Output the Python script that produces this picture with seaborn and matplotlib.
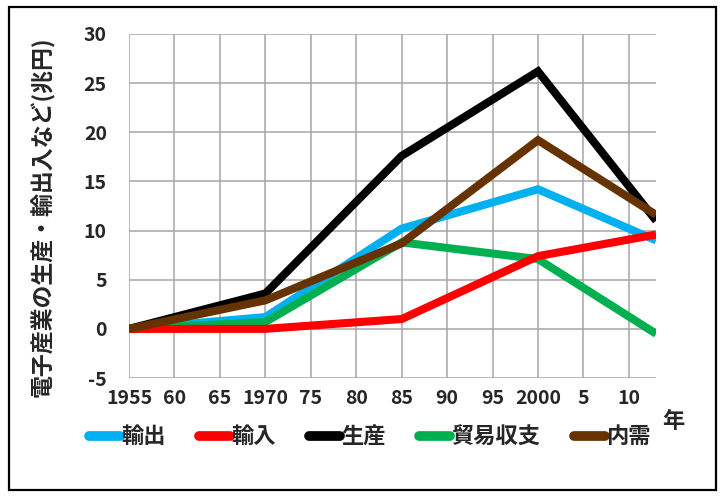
import matplotlib.pyplot as plt
import pandas as pd
import seaborn as sns
from matplotlib.lines import Line2D
from matplotlib.patches import Rectangle

# データ (兆円)
years = [1955, 1970, 1985, 2000, 2013]
exports = [0, 1.2, 10.2, 14.2, 9.0]      # 輸出
imports = [0, 0.0, 1.0, 7.4, 9.6]        # 輸入
production = [0, 3.6, 17.6, 26.2, 11.0]  # 生産
balance = [0, 0.7, 8.8, 7.1, -0.5]       # 貿易収支
domestic = [0, 2.9, 8.7, 19.2, 11.6]     # 内需

series_names = ["輸出", "輸入", "生産", "貿易収支", "内需"]
colors = ["#00B0F0", "#FF0000", "#000000", "#00B050", "#663300"]
tick_years = list(range(1955, 2011, 5))
tick_labels = ["1955", "60", "65", "1970", "75", "80", "85", "90", "95", "2000", "5", "10"]

rows = []
for name, vals in zip(series_names, [exports, imports, production, balance, domestic]):
    for y, v in zip(years, vals):
        rows.append({"年": y, "値": v, "系列": name})
df = pd.DataFrame(rows)

sns.set_style("white")
plt.rcParams["font.family"] = ["Noto Sans CJK JP", "DejaVu Sans"]
plt.rcParams["font.weight"] = "bold"
plt.rcParams["axes.unicode_minus"] = False

fig = plt.figure(figsize=(7.25, 4.97), dpi=100)
ax = fig.add_axes([0.178, 0.2394, 0.727, 0.6922])

sns.lineplot(data=df, x="年", y="値", hue="系列", hue_order=series_names,
             palette=colors, linewidth=5.8, legend=False, ax=ax)

# 重なり順 (輸出 < 生産 < 貿易収支 < 輸入 < 内需)
z = {"輸出": 2.0, "輸入": 2.3, "生産": 2.1, "貿易収支": 2.2, "内需": 2.4}
for line, name in zip(ax.lines, series_names):
    line.set_zorder(z[name])
    line.set_solid_capstyle("butt")
    line.set_solid_joinstyle("miter")

ax.set_xlim(1955, 2013)
ax.set_ylim(-5, 30)
ax.set_xticks(tick_years)
ax.set_xticklabels(tick_labels)
ax.set_yticks(range(-5, 31, 5))
ax.tick_params(length=0, labelsize=14)
ax.tick_params(axis="y", pad=16)
ax.tick_params(axis="x", pad=8)
for lab in ax.get_xticklabels() + ax.get_yticklabels():
    lab.set_fontweight("bold")

ax.grid(True, color="#A6A6A6", linewidth=1.1)
ax.set_axisbelow(True)
for s in ax.spines.values():
    s.set_visible(False)

ax.set_xlabel("")
ax.set_ylabel("電子産業の生産・輸出入など(兆円)", fontsize=16.5, fontweight="bold")
ax.yaxis.set_label_coords(-0.14, 0.47)
fig.text(673 / 725, 1 - 422 / 497, "年", fontsize=16, fontweight="bold", ha="center", va="center")

handles = [Line2D([0], [0], color=c, linewidth=7, solid_capstyle="round") for c in colors]
fig.legend(handles, series_names, loc="center", bbox_to_anchor=(0.51, 0.121), ncol=5,
           frameon=False, handlelength=1.4, handletextpad=0.05,
           columnspacing=1.5, prop={"weight": "bold", "size": 16})

fig.patches.append(Rectangle((9 / 725, 1 - 490 / 497), 707 / 725, 483 / 497,
                             transform=fig.transFigure, fill=False,
                             edgecolor="black", linewidth=1.6))

fig.savefig("out.png", dpi=100)
